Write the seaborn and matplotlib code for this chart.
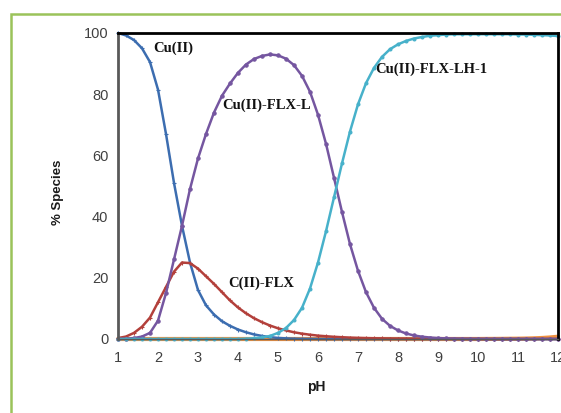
import numpy as np
import pandas as pd
import matplotlib
matplotlib.use("Agg")
import matplotlib.pyplot as plt
import seaborn as sns
from matplotlib.patches import Rectangle

ph = [1.0, 1.2, 1.4, 1.6, 1.8, 2.0, 2.2, 2.4, 2.6, 2.8, 3.0, 3.2, 3.4, 3.6, 3.8, 4.0,
      4.2, 4.4, 4.6, 4.8, 5.0, 5.2, 5.4, 5.6, 5.8, 6.0, 6.2, 6.4, 6.6, 6.8, 7.0, 7.2,
      7.4, 7.6, 7.8, 8.0, 8.2, 8.4, 8.6, 8.8, 9.0, 9.2, 9.4, 9.6, 9.8, 10.0, 10.2, 10.4,
      10.6, 10.8, 11.0, 11.2, 11.4, 11.6, 11.8, 12.0]

cu = [100, 99.2, 97.7, 95, 90.5, 81.5, 67, 51, 37, 25, 16, 11, 8, 5.8, 4.3, 3.1,
      2.2, 1.5, 1.0, 0.6, 0.35, 0.2, 0.1, 0.05, 0.03, 0.02] + [0] * 30

cu_flx = [0.3, 0.8, 2.0, 4.0, 7.0, 12.0, 17.0, 22.0, 25.0, 24.8, 23.0, 20.5, 18.0, 15.3,
          12.6, 10.3, 8.4, 6.8, 5.5, 4.4, 3.5, 2.8, 2.2, 1.75, 1.4, 1.1, 0.9, 0.72, 0.58,
          0.46, 0.37, 0.3, 0.24, 0.19, 0.15, 0.12, 0.1, 0.08, 0.06, 0.05, 0.04, 0.03, 0.02,
          0.02, 0.01, 0.01] + [0] * 10

cu_flx_l = [0, 0.1, 0.3, 0.8, 2.0, 6.0, 15.0, 26.0, 37.0, 49.0, 59.0, 67.0, 74.0, 79.5,
            83.5, 87.0, 89.7, 91.5, 92.5, 93.0, 92.7, 91.6, 89.5, 86.0, 80.8, 73.3, 63.8,
            52.7, 41.5, 31.0, 22.3, 15.3, 10.2, 6.6, 4.3, 2.8, 1.8, 1.15, 0.75, 0.48, 0.31,
            0.2, 0.13, 0.08, 0.05, 0.03, 0.02, 0.01] + [0] * 8

cu_flx_lh = [0] * 16 + [0.1, 0.25, 0.5, 1.0, 2.0, 3.6, 6.2, 10.2, 16.5, 25.0, 35.2, 46.3,
             57.4, 67.8, 76.7, 83.6, 88.6, 92.2, 94.7, 96.3, 97.4, 98.2, 98.7, 99.1, 99.3,
             99.5, 99.6, 99.6, 99.6, 99.6, 99.6, 99.6, 99.6, 99.6, 99.5, 99.5, 99.4, 99.3,
             99.2, 99.0]

other = [0] * 46 + [0.02, 0.03, 0.05, 0.08, 0.1, 0.15, 0.22, 0.33, 0.5, 0.75]

series_names = ["Cu(II)", "C(II)-FLX", "Cu(II)-FLX-L", "Cu(II)-FLX-LH-1", "other"]
series_vals = [cu, cu_flx, cu_flx_l, cu_flx_lh, other]
colors = ["#3c6db0", "#b3403b", "#7556a0", "#47b1ca", "#f0913f"]
markers = ["+", "+", "o", "o", None]
msizes = [3.2, 3.2, 2.4, 2.1, 0]

x_ticks = [1, 2, 3, 4, 5, 6, 7, 8, 9, 10, 11, 12]
y_ticks = [0, 20, 40, 60, 80, 100]

sns.set_style("white")
plt.rcParams["font.family"] = ["Liberation Sans", "DejaVu Sans"]

fig = plt.figure(figsize=(5.61, 4.13), dpi=100)
fig.patch.set_facecolor("white")
ax = fig.add_axes([118 / 561, 1 - 339 / 413, 440 / 561, 306 / 413])

order = [4, 0, 1, 2, 3]
for i in order:
    df = pd.DataFrame({"pH": ph, "pct": series_vals[i]})
    kw = {}
    if markers[i]:
        kw = dict(marker=markers[i], markersize=msizes[i], markeredgewidth=0.8,
                  markeredgecolor=colors[i], markerfacecolor=colors[i])
    sns.lineplot(data=df, x="pH", y="pct", color=colors[i],
                 linewidth=3.0 if i == 4 else 1.8, ax=ax, clip_on=False,
                 zorder=3 if i == 4 else 4, **kw)

ax.set_xlim(1, 12)
ax.set_ylim(0, 100)
ax.set_xticks(x_ticks)
ax.set_yticks(y_ticks)
ax.set_xticklabels([str(t) for t in x_ticks])
ax.set_yticklabels([str(t) for t in y_ticks])
ax.tick_params(axis="both", which="both", direction="out", length=4, width=1,
               color="#808080", labelsize=10.5, labelcolor="#404040")
ax.tick_params(axis="x", pad=5)
ax.tick_params(axis="y", pad=3)
ax.set_xlabel("")
ax.set_ylabel("")

for side in ["top", "right"]:
    ax.spines[side].set_color("black")
    ax.spines[side].set_linewidth(2.0)
ax.spines["left"].set_color("#595959")
ax.spines["left"].set_linewidth(2.0)
ax.spines["bottom"].set_color("#595959")
ax.spines["bottom"].set_linewidth(1.0)
for s in ax.spines.values():
    s.set_visible(True)
    s.set_zorder(5)

fig.text(316 / 561, 1 - 387 / 413, "pH", ha="center", va="center",
         fontsize=10, fontweight="bold", color="#1a1a1a")
fig.text(58 / 561, 1 - 192 / 413, "% Species", ha="center", va="center",
         rotation=90, fontsize=9.5, fontweight="bold", color="#1a1a1a")

serif = ["Liberation Serif", "DejaVu Serif"]
ax.text(1.88, 95.0, "Cu(II)", family=serif, fontsize=10.5, fontweight="bold",
        ha="left", va="center", color="#111111")
ax.text(3.6, 76.3, "Cu(II)-FLX-L", family=serif, fontsize=10.5, fontweight="bold",
        ha="left", va="center", color="#111111")
ax.text(7.43, 88.0, "Cu(II)-FLX-LH-1", family=serif, fontsize=10.5, fontweight="bold",
        ha="left", va="center", color="#111111")
ax.text(3.75, 18.3, "C(II)-FLX", family=serif, fontsize=10.5, fontweight="bold",
        ha="left", va="center", color="#111111")

fig.patches.append(Rectangle((11 / 561, -0.05), 1.2, 1 - 14 / 413 + 0.05,
                             transform=fig.transFigure, fill=False,
                             edgecolor="#9bc35a", linewidth=1.8, zorder=0))

fig.savefig("out.png", dpi=100, facecolor="white")
